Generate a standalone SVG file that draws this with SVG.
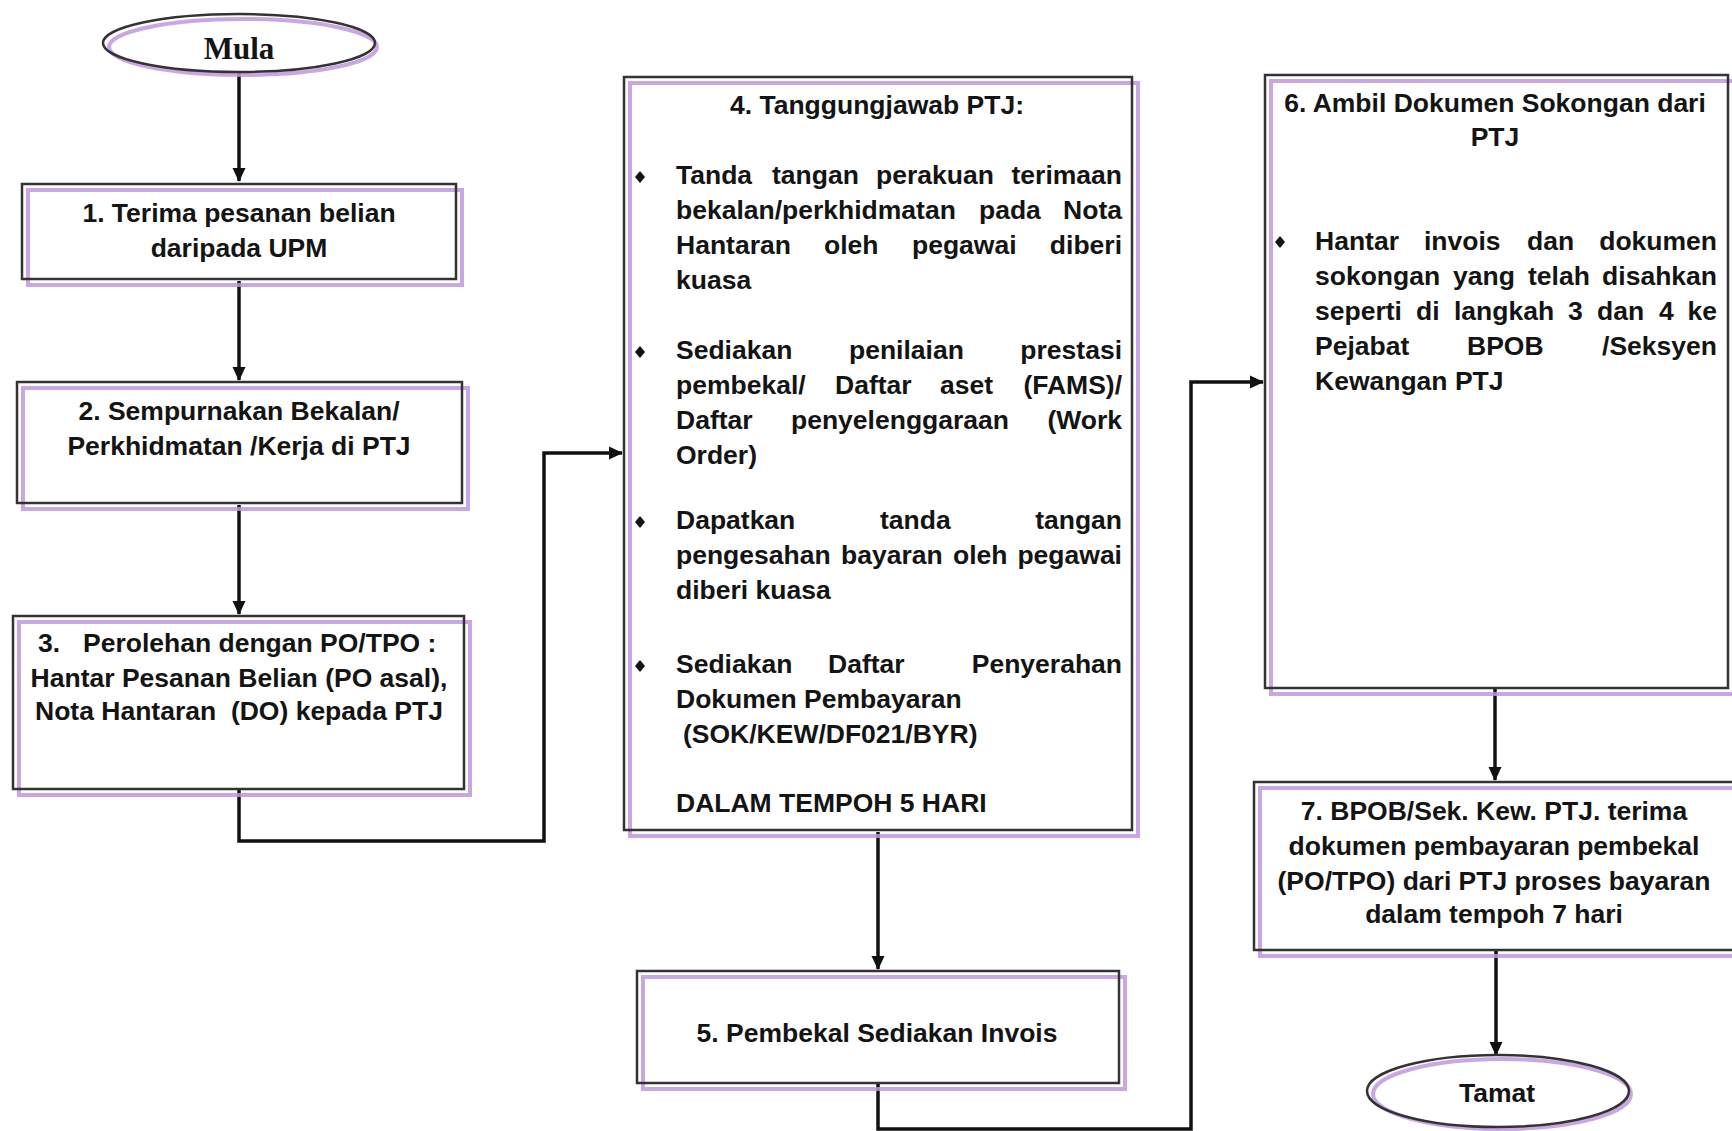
<svg xmlns="http://www.w3.org/2000/svg" width="1732" height="1131" viewBox="0 0 1732 1131">
<style>
.bg{fill:#ffffff}
.box{fill:#ffffff;stroke:none}
.sh{fill:none;stroke:#bf98df;stroke-width:4;opacity:0.85}
.bd{fill:none;stroke:#333333;stroke-width:2.5}
.t{font-family:"Liberation Sans",Arial,sans-serif;font-weight:bold;font-size:26.5px;fill:#141414}
.m{text-anchor:middle}
.e{text-anchor:end}
.serif{font-family:"Liberation Serif","Times New Roman",serif;font-weight:bold;font-size:31px;fill:#141414;text-anchor:middle}
.ln{fill:none;stroke:#111111;stroke-width:3.5}
.bul{fill:#141414}
</style>
<defs>
<marker id="ah" markerUnits="userSpaceOnUse" markerWidth="14" markerHeight="14" refX="13" refY="7" orient="auto">
<path d="M0,0.5 L14,7 L0,13.5 z" fill="#111111"/>
</marker>
</defs>
<rect class="bg" x="0" y="0" width="1732" height="1131"/>

<g id="connectors">
<path class="ln" d="M239,73 V181" marker-end="url(#ah)"/>
<path class="ln" d="M239,281 V380" marker-end="url(#ah)"/>
<path class="ln" d="M239,505 V614" marker-end="url(#ah)"/>
<path class="ln" d="M239,790 V841 H544 V453 H622" marker-end="url(#ah)"/>
<path class="ln" d="M878,832 V969" marker-end="url(#ah)"/>
<path class="ln" d="M878,1084 V1129 H1191 V382 H1263" marker-end="url(#ah)"/>
<path class="ln" d="M1495,689 V780" marker-end="url(#ah)"/>
<path class="ln" d="M1496,951 V1055" marker-end="url(#ah)"/>
</g>

<g id="mula">
<ellipse class="box" cx="239" cy="43" rx="136" ry="29"/>
<ellipse class="sh" cx="243" cy="47" rx="134" ry="28"/>
<ellipse class="bd" cx="239" cy="43" rx="136" ry="29"/>
<text class="serif" x="239" y="59">Mula</text>
</g>

<g id="box1">
<rect class="box" x="22" y="184" width="434" height="95"/>
<rect class="sh" x="28" y="190" width="434" height="95"/>
<rect class="bd" x="22" y="184" width="434" height="95"/>
<text class="t m" x="239" y="222">1. Terima pesanan belian</text>
<text class="t m" x="239" y="257">daripada UPM</text>
</g>

<g id="box2">
<rect class="box" x="17" y="382" width="445" height="121"/>
<rect class="sh" x="23" y="388" width="445" height="121"/>
<rect class="bd" x="17" y="382" width="445" height="121"/>
<text class="t m" x="239" y="420">2. Sempurnakan Bekalan/</text>
<text class="t m" x="239" y="455">Perkhidmatan /Kerja di PTJ</text>
</g>

<g id="box3">
<rect class="box" x="13" y="616" width="451" height="173"/>
<rect class="sh" x="19" y="622" width="451" height="173"/>
<rect class="bd" x="13" y="616" width="451" height="173"/>
<text class="t" y="652"><tspan x="38">3.</tspan><tspan x="83">Perolehan dengan PO/TPO :</tspan></text>
<text class="t m" x="239" y="687">Hantar Pesanan Belian (PO asal),</text>
<text class="t m" x="239" y="720" xml:space="preserve">Nota Hantaran  (DO) kepada PTJ</text>
</g>

<g id="box4">
<rect class="box" x="624" y="77" width="508" height="753"/>
<rect class="sh" x="630" y="83" width="508" height="753"/>
<rect class="bd" x="624" y="77" width="508" height="753"/>
<text class="t m" x="877" y="114">4. Tanggungjawab PTJ:</text>
<path class="bul" d="M640,171 l5,6 l-5,6 l-5,-6 z"/>
<text class="t" y="184"><tspan x="676">Tanda</tspan><tspan x="772">tangan</tspan><tspan x="876">perakuan</tspan></text>
<text class="t e" x="1122" y="184">terimaan</text>
<text class="t" y="219"><tspan x="676">bekalan/perkhidmatan</tspan><tspan x="979">pada</tspan></text>
<text class="t e" x="1122" y="219">Nota</text>
<text class="t" y="254"><tspan x="676">Hantaran</tspan><tspan x="824">oleh</tspan><tspan x="912">pegawai</tspan></text>
<text class="t e" x="1122" y="254">diberi</text>
<text class="t" x="676" y="289">kuasa</text>
<path class="bul" d="M640,346 l5,6 l-5,6 l-5,-6 z"/>
<text class="t" y="359"><tspan x="676">Sediakan</tspan><tspan x="849">penilaian</tspan></text>
<text class="t e" x="1122" y="359">prestasi</text>
<text class="t" y="394"><tspan x="676">pembekal/</tspan><tspan x="835">Daftar</tspan><tspan x="940">aset</tspan></text>
<text class="t e" x="1122" y="394">(FAMS)/</text>
<text class="t" y="429"><tspan x="676">Daftar</tspan><tspan x="791">penyelenggaraan</tspan></text>
<text class="t e" x="1122" y="429">(Work</text>
<text class="t" x="676" y="464">Order)</text>
<path class="bul" d="M640,516 l5,6 l-5,6 l-5,-6 z"/>
<text class="t" y="529"><tspan x="676">Dapatkan</tspan><tspan x="880">tanda</tspan></text>
<text class="t e" x="1122" y="529">tangan</text>
<text class="t" y="564"><tspan x="676">pengesahan</tspan><tspan x="841">bayaran</tspan><tspan x="953">oleh</tspan></text>
<text class="t e" x="1122" y="564">pegawai</text>
<text class="t" x="676" y="599">diberi kuasa</text>
<path class="bul" d="M640,660 l5,6 l-5,6 l-5,-6 z"/>
<text class="t" y="673"><tspan x="676">Sediakan</tspan><tspan x="828">Daftar</tspan></text>
<text class="t e" x="1122" y="673">Penyerahan</text>
<text class="t" x="676" y="708">Dokumen Pembayaran</text>
<text class="t" x="683" y="743">(SOK/KEW/DF021/BYR)</text>
<text class="t" x="676" y="812">DALAM TEMPOH 5 HARI</text>
</g>

<g id="box5">
<rect class="box" x="637" y="971" width="482" height="112"/>
<rect class="sh" x="643" y="977" width="482" height="112"/>
<rect class="bd" x="637" y="971" width="482" height="112"/>
<text class="t m" x="877" y="1042">5. Pembekal Sediakan Invois</text>
</g>

<g id="box6">
<rect class="box" x="1265" y="75" width="463" height="613"/>
<rect class="sh" x="1271" y="81" width="463" height="613"/>
<rect class="bd" x="1265" y="75" width="463" height="613"/>
<text class="t m" x="1495" y="112">6. Ambil Dokumen Sokongan dari</text>
<text class="t m" x="1495" y="146">PTJ</text>
<path class="bul" d="M1280,236 l5,6 l-5,6 l-5,-6 z"/>
<text class="t" y="250"><tspan x="1315">Hantar</tspan><tspan x="1424">invois</tspan><tspan x="1527">dan</tspan></text>
<text class="t e" x="1717" y="250">dokumen</text>
<text class="t" y="285"><tspan x="1315">sokongan</tspan><tspan x="1453">yang</tspan><tspan x="1528">telah</tspan></text>
<text class="t e" x="1717" y="285">disahkan</text>
<text class="t" y="320"><tspan x="1315">seperti</tspan><tspan x="1416">di</tspan><tspan x="1454">langkah</tspan><tspan x="1568">3</tspan><tspan x="1597">dan</tspan><tspan x="1659">4</tspan></text>
<text class="t e" x="1717" y="320">ke</text>
<text class="t" y="355"><tspan x="1315">Pejabat</tspan><tspan x="1467">BPOB</tspan></text>
<text class="t e" x="1717" y="355">/Seksyen</text>
<text class="t" x="1315" y="390">Kewangan PTJ</text>
</g>

<g id="box7">
<rect class="box" x="1254" y="782" width="491" height="168"/>
<rect class="sh" x="1260" y="788" width="491" height="168"/>
<rect class="bd" x="1254" y="782" width="491" height="168"/>
<text class="t m" x="1494" y="820">7. BPOB/Sek. Kew. PTJ. terima</text>
<text class="t m" x="1494" y="855">dokumen pembayaran pembekal</text>
<text class="t m" x="1494" y="890">(PO/TPO) dari PTJ proses bayaran</text>
<text class="t m" x="1494" y="923">dalam tempoh 7 hari</text>
</g>

<g id="tamat">
<ellipse class="box" cx="1498" cy="1091" rx="131" ry="36"/>
<ellipse class="sh" cx="1502" cy="1094" rx="129" ry="35"/>
<ellipse class="bd" cx="1498" cy="1091" rx="131" ry="36"/>
<text class="t m" x="1497" y="1102">Tamat</text>
</g>
</svg>
